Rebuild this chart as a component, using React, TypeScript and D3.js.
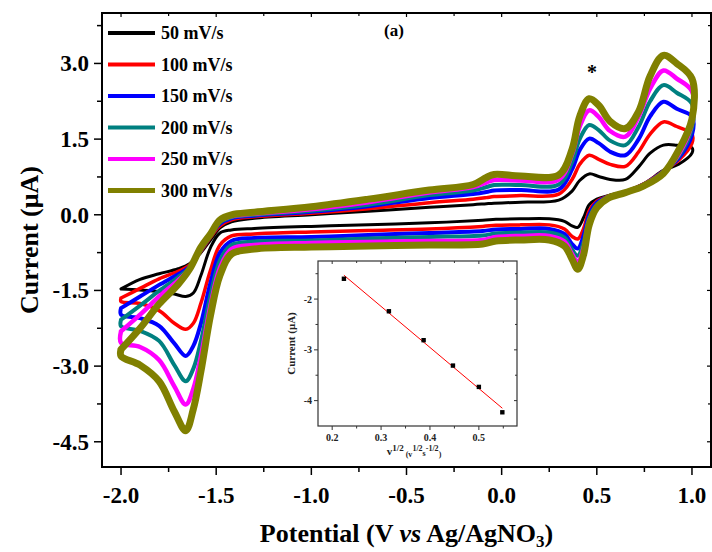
import React from 'react';
import * as d3 from 'd3';

const scanRates = ['50 mV/s', '100 mV/s', '150 mV/s', '200 mV/s', '250 mV/s', '300 mV/s'];
const colors = ['#000000', '#ff0000', '#0000ff', '#008080', '#ff00ff', '#808000'];
const strokeWidths = [3, 3.5, 4, 4, 4.5, 7];
const legendWidths = [4, 4, 4, 4, 4, 5];

// forward (anodic) branch, -2.0 -> 1.0 V
const upperE = [-2.0, -1.9, -1.8, -1.7, -1.64, -1.58, -1.53, -1.48, -1.42, -1.3, -1.0, -0.7, -0.38, -0.15, -0.08, -0.04, 0.1, 0.3, 0.37, 0.41, 0.46, 0.51, 0.57, 0.65, 0.72, 0.78, 0.85, 0.92, 1.0];
const upper50 = [-1.47, -1.28, -1.17, -1.07, -0.97, -0.75, -0.5, -0.26, -0.14, -0.07, 0.0, 0.07, 0.15, 0.2, 0.22, 0.23, 0.25, 0.29, 0.47, 0.68, 0.81, 0.76, 0.7, 0.7, 0.95, 1.22, 1.38, 1.38, 1.33];
const upper100 = [-1.65, -1.46, -1.27, -1.12, -1.0, -0.72, -0.45, -0.22, -0.1, -0.04, 0.03, 0.12, 0.24, 0.31, 0.34, 0.36, 0.38, 0.41, 0.7, 1.0, 1.18, 1.1, 1.0, 0.96, 1.25, 1.6, 1.84, 1.75, 1.6];
const upper150 = [-1.85, -1.62, -1.39, -1.18, -1.03, -0.7, -0.42, -0.18, -0.07, -0.02, 0.06, 0.17, 0.33, 0.41, 0.45, 0.48, 0.49, 0.5, 0.9, 1.28, 1.51, 1.42, 1.25, 1.18, 1.5, 1.95, 2.24, 2.1, 1.95];
const upper200 = [-2.08, -1.8, -1.51, -1.24, -1.05, -0.68, -0.4, -0.15, -0.05, 0.0, 0.08, 0.2, 0.39, 0.48, 0.55, 0.59, 0.59, 0.6, 1.05, 1.5, 1.78, 1.68, 1.47, 1.38, 1.75, 2.25, 2.57, 2.42, 2.2];
const upper250 = [-2.31, -1.98, -1.62, -1.3, -1.07, -0.66, -0.38, -0.12, -0.03, 0.02, 0.11, 0.25, 0.44, 0.55, 0.64, 0.69, 0.68, 0.7, 1.2, 1.75, 2.07, 1.94, 1.66, 1.55, 1.95, 2.5, 2.86, 2.7, 2.45];
const upper300 = [-2.67, -2.25, -1.77, -1.38, -1.08, -0.64, -0.38, -0.1, 0.0, 0.05, 0.16, 0.31, 0.49, 0.6, 0.74, 0.8, 0.77, 0.79, 1.3, 1.95, 2.3, 2.17, 1.85, 1.71, 2.05, 2.75, 3.16, 3.0, 2.7];

// reverse (cathodic) branch, 1.0 -> -2.0 V
const lowerE = [1.0, 0.93, 0.85, 0.75, 0.65, 0.56, 0.5, 0.46, 0.43, 0.4, 0.37, 0.33, 0.25, 0.1, -0.03, -0.1, -0.38, -0.7, -1.0, -1.3, -1.42, -1.48, -1.53, -1.58, -1.62, -1.66, -1.72, -1.8, -1.9, -2.0];
const lower50 = [1.22, 1.0, 0.88, 0.62, 0.46, 0.38, 0.31, 0.2, -0.06, -0.25, -0.22, -0.13, -0.08, -0.08, -0.09, -0.11, -0.16, -0.2, -0.23, -0.27, -0.3, -0.36, -0.65, -1.2, -1.55, -1.62, -1.57, -1.52, -1.49, -1.47];
const lower100 = [1.42, 1.08, 0.87, 0.62, 0.46, 0.37, 0.27, 0.08, -0.28, -0.48, -0.43, -0.28, -0.2, -0.2, -0.21, -0.23, -0.28, -0.31, -0.34, -0.38, -0.42, -0.6, -1.1, -1.75, -2.15, -2.27, -2.15, -1.9, -1.76, -1.72];
const lower150 = [1.58, 1.12, 0.86, 0.61, 0.45, 0.36, 0.24, 0.0, -0.42, -0.67, -0.58, -0.38, -0.28, -0.28, -0.29, -0.32, -0.36, -0.4, -0.44, -0.46, -0.52, -0.75, -1.35, -2.15, -2.6, -2.8, -2.55, -2.2, -2.05, -1.98];
const lower200 = [1.72, 1.16, 0.85, 0.6, 0.45, 0.35, 0.2, -0.06, -0.55, -0.81, -0.69, -0.45, -0.35, -0.35, -0.37, -0.41, -0.44, -0.47, -0.51, -0.53, -0.6, -0.9, -1.6, -2.5, -3.05, -3.3, -2.98, -2.5, -2.3, -2.21];
const lower250 = [1.82, 1.2, 0.84, 0.6, 0.44, 0.34, 0.17, -0.12, -0.66, -0.93, -0.78, -0.53, -0.42, -0.42, -0.44, -0.5, -0.52, -0.54, -0.56, -0.6, -0.68, -1.05, -1.8, -2.8, -3.45, -3.76, -3.4, -2.88, -2.62, -2.54];
const lower300 = [1.9, 1.28, 0.82, 0.58, 0.44, 0.33, 0.14, -0.2, -0.8, -1.08, -0.88, -0.62, -0.5, -0.5, -0.52, -0.58, -0.6, -0.62, -0.64, -0.68, -0.78, -1.2, -2.0, -3.1, -3.85, -4.28, -3.9, -3.3, -2.98, -2.8];

const upperSeries = [upper50, upper100, upper150, upper200, upper250, upper300];
const lowerSeries = [lower50, lower100, lower150, lower200, lower250, lower300];

const xTicks = [-2.0, -1.5, -1.0, -0.5, 0.0, 0.5, 1.0];
const xTickLabels = ['-2.0', '-1.5', '-1.0', '-0.5', '0.0', '0.5', '1.0'];
const xMinor = [-1.75, -1.25, -0.75, -0.25, 0.25, 0.75];
const yTicks = [-4.5, -3.0, -1.5, 0.0, 1.5, 3.0];
const yTickLabels = ['-4.5', '-3.0', '-1.5', '0.0', '1.5', '3.0'];
const yMinor = [-3.75, -2.25, -0.75, 0.75, 2.25, 3.75];

// inset: peak current vs square root of scan rate
const insetX = [0.224, 0.316, 0.387, 0.447, 0.5, 0.548];
const insetY = [-1.6, -2.24, -2.81, -3.31, -3.73, -4.23];
const fitX = [0.224, 0.548];
const fitY = [-1.53, -4.15];
const insetXTicks = [0.2, 0.3, 0.4, 0.5];
const insetXTickLabels = ['0.2', '0.3', '0.4', '0.5'];
const insetXMinor = [0.25, 0.35, 0.45, 0.55];
const insetYTicks = [-4, -3, -2];
const insetYTickLabels = ['-4', '-3', '-2'];
const insetYMinor = [-3.5, -2.5, -1.5];

const FONT = '"Liberation Serif", "Times New Roman", Times, serif';

export default function App() {
  const x = d3.scaleLinear().domain([-2.1, 1.1]).range([102, 711]);
  const y = d3.scaleLinear().domain([-5, 4]).range([467, 13]);
  const line = d3
    .line<[number, number]>()
    .x((d) => x(d[0]))
    .y((d) => y(d[1]))
    .curve(d3.curveCatmullRom.alpha(0.5));

  const paths = upperSeries.map((up, k) => {
    const pts: [number, number][] = [];
    upperE.forEach((e, i) => pts.push([e, up[i]]));
    lowerE.forEach((e, i) => pts.push([e, lowerSeries[k][i]]));
    pts.push([upperE[0], up[0]]);
    return line(pts) as string;
  });

  const xi = d3.scaleLinear().domain([0.171, 0.578]).range([318, 517]);
  const yi = d3.scaleLinear().domain([-4.5, -1.25]).range([426, 261]);
  const fitLine = d3
    .line<number>()
    .x((d) => xi(d))
    .y((_, i) => yi(fitY[i]));

  const [x0, x1] = x.range();
  const [y0, y1] = y.range();
  const [ix0, ix1] = xi.range();
  const [iy0, iy1] = yi.range();

  return (
    <svg
      width={712}
      height={552}
      style={{ position: 'absolute', left: 0, top: 0, background: '#fff' }}
      fontFamily={FONT}
      fontWeight="bold"
    >
      <rect x={0} y={0} width={712} height={552} fill="#fff" />

      {/* curves */}
      <g fill="none" strokeLinejoin="round" strokeLinecap="round">
        {paths.map((d, k) => (
          <path key={k} d={d} stroke={colors[k]} strokeWidth={strokeWidths[k]} />
        ))}
      </g>

      {/* main frame */}
      <rect x={x0} y={y1} width={x1 - x0} height={y0 - y1} fill="none" stroke="#000" strokeWidth={2} />

      {/* bottom ticks (outward) */}
      {xTicks.map((t, i) => (
        <g key={'xt' + i}>
          <line x1={x(t)} x2={x(t)} y1={y0} y2={y0 + 8} stroke="#000" strokeWidth={1.5} />
          <line x1={x(t)} x2={x(t)} y1={y1} y2={y1 + 4} stroke="#000" strokeWidth={1.2} />
          <text x={x(t)} y={y0 + 36} textAnchor="middle" fontSize={23}>
            {xTickLabels[i]}
          </text>
        </g>
      ))}
      {xMinor.map((t, i) => (
        <g key={'xm' + i}>
          <line x1={x(t)} x2={x(t)} y1={y0} y2={y0 + 5} stroke="#000" strokeWidth={1.5} />
          <line x1={x(t)} x2={x(t)} y1={y1} y2={y1 + 3} stroke="#000" strokeWidth={1.2} />
        </g>
      ))}

      {/* left ticks (outward) */}
      {yTicks.map((t, i) => (
        <g key={'yt' + i}>
          <line x1={x0 - 8} x2={x0} y1={y(t)} y2={y(t)} stroke="#000" strokeWidth={1.5} />
          <line x1={x1 - 4} x2={x1} y1={y(t)} y2={y(t)} stroke="#000" strokeWidth={1.2} />
          <text x={x0 - 13} y={y(t)} dy="0.35em" textAnchor="end" fontSize={23}>
            {yTickLabels[i]}
          </text>
        </g>
      ))}
      {yMinor.map((t, i) => (
        <g key={'ym' + i}>
          <line x1={x0 - 5} x2={x0} y1={y(t)} y2={y(t)} stroke="#000" strokeWidth={1.5} />
          <line x1={x1 - 3} x2={x1} y1={y(t)} y2={y(t)} stroke="#000" strokeWidth={1.2} />
        </g>
      ))}

      {/* axis titles */}
      <text transform={`translate(38, ${(y0 + y1) / 2}) rotate(-90)`} textAnchor="middle" fontSize={26}>
        Current (μA)
      </text>
      <text x={(x0 + x1) / 2} y={542} textAnchor="middle" fontSize={26}>
        <tspan>Potential (V </tspan>
        <tspan fontStyle="italic">vs</tspan>
        <tspan> Ag/AgNO</tspan>
        <tspan fontSize={17} dy={5}>3</tspan>
        <tspan dy={-5}>)</tspan>
      </text>

      {/* legend */}
      {scanRates.map((s, i) => {
        const ly = 33 + i * 31.5;
        return (
          <g key={'lg' + i}>
            <line x1={108} x2={155} y1={ly} y2={ly} stroke={colors[i]} strokeWidth={legendWidths[i]} />
            <text x={161} y={ly} dy="0.35em" fontSize={18}>
              {s}
            </text>
          </g>
        );
      })}

      <text x={394} y={36} textAnchor="middle" fontSize={17}>
        (a)
      </text>
      <text x={592} y={79} textAnchor="middle" fontSize={20}>
        *
      </text>

      {/* inset */}
      <g>
        <rect x={ix0} y={iy1} width={ix1 - ix0} height={iy0 - iy1} fill="#fff" stroke="#333" strokeWidth={1.2} />
        {insetXTicks.map((t, i) => (
          <g key={'ixt' + i}>
            <line x1={xi(t)} x2={xi(t)} y1={iy0} y2={iy0 + 4} stroke="#333" />
            <line x1={xi(t)} x2={xi(t)} y1={iy1} y2={iy1 + 3} stroke="#333" />
            <text x={xi(t)} y={iy0 + 15} textAnchor="middle" fontSize={10} fill="#222">
              {insetXTickLabels[i]}
            </text>
          </g>
        ))}
        {insetXMinor.map((t, i) => (
          <g key={'ixm' + i}>
            <line x1={xi(t)} x2={xi(t)} y1={iy0} y2={iy0 + 2.5} stroke="#333" />
            <line x1={xi(t)} x2={xi(t)} y1={iy1} y2={iy1 + 2} stroke="#333" />
          </g>
        ))}
        {insetYTicks.map((t, i) => (
          <g key={'iyt' + i}>
            <line x1={ix0 - 4} x2={ix0} y1={yi(t)} y2={yi(t)} stroke="#333" />
            <line x1={ix1 - 3} x2={ix1} y1={yi(t)} y2={yi(t)} stroke="#333" />
            <text x={ix0 - 6} y={yi(t)} dy="0.35em" textAnchor="end" fontSize={10} fill="#222">
              {insetYTickLabels[i]}
            </text>
          </g>
        ))}
        {insetYMinor.map((t, i) => (
          <g key={'iym' + i}>
            <line x1={ix0 - 2.5} x2={ix0} y1={yi(t)} y2={yi(t)} stroke="#333" />
            <line x1={ix1 - 2} x2={ix1} y1={yi(t)} y2={yi(t)} stroke="#333" />
          </g>
        ))}
        <path d={fitLine(fitX) as string} stroke="#ff0000" strokeWidth={1} fill="none" />
        {insetX.map((v, i) => (
          <rect key={'ip' + i} x={xi(v) - 2.2} y={yi(insetY[i]) - 2.2} width={4.4} height={4.4} fill="#000" />
        ))}
        <text transform={`translate(295, ${(iy0 + iy1) / 2}) rotate(-90)`} textAnchor="middle" fontSize={11} fill="#222">
          Current (μA)
        </text>
        <text x={414} y={455} textAnchor="middle" fill="#222">
          <tspan fontSize={11}>v</tspan>
          <tspan fontSize={9} dy={-4.5}>1/2</tspan>
          <tspan fontSize={8} dy={6}>{'\u00a0(v'}</tspan>
          <tspan fontSize={8} dy={-5.5}>1/2</tspan>
          <tspan fontSize={8} dy={4.5}>s</tspan>
          <tspan fontSize={8} dy={-4.5}>-1/2</tspan>
          <tspan fontSize={8} dy={5.5}>)</tspan>
        </text>
      </g>
    </svg>
  );
}
